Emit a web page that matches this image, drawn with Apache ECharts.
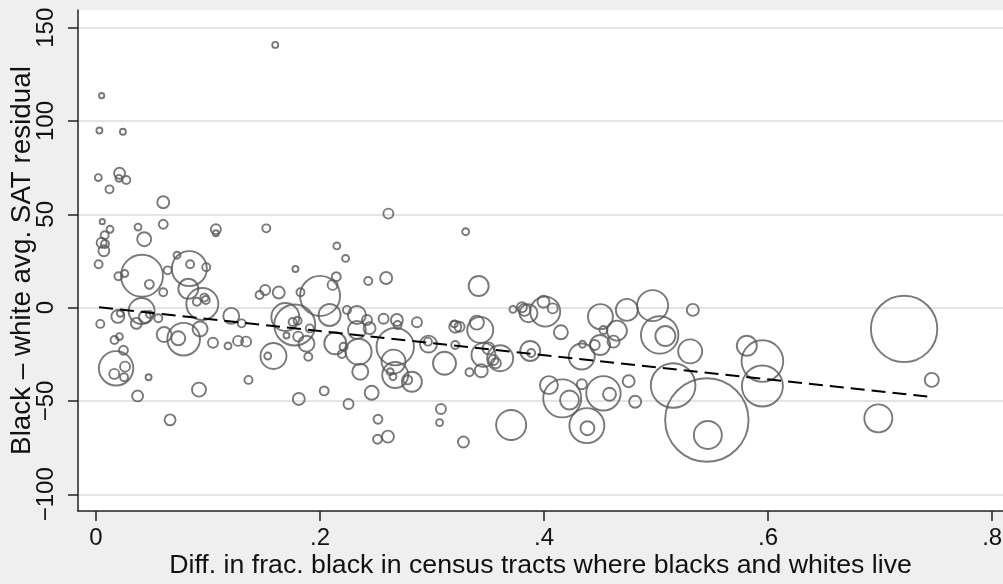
<!DOCTYPE html>
<html>
<head>
<meta charset="utf-8">
<script src="https://cdn.jsdelivr.net/npm/echarts@6/dist/echarts.min.js"></script>
<style>
html,body{margin:0;padding:0;background:#efefef;}
#c{width:1003px;height:584px;}
</style>
</head>
<body>
<div id="c"></div>
<script>
// Difference in fraction black (x), black-white avg SAT residual (y), weight (bubble area)
const diffFracBlack = [0.160,0.005,0.003,0.024,0.002,0.021,0.0205,0.027,0.012,0.060,
0.0056,0.0125,0.0077,0.0375,0.060,0.043,0.107,0.107,0.152,0.005,
0.008,0.007,0.0023,0.041,0.0476,0.020,0.0257,0.060,0.0833,0.084,
0.0984,0.0723,0.0824,0.064,0.0949,0.0967,0.090,0.098,0.0407,0.1207,
0.178,0.215,0.2228,0.2145,0.2112,0.146,0.151,0.1631,0.1825,0.200,
0.261,0.330,0.243,0.259,0.3416,0.0038,0.0195,0.0217,0.036,0.0436,
0.0478,0.0556,0.130,0.169,0.1774,0.1755,0.180,0.1908,0.1879,0.1805,
0.170,0.1895,0.1584,0.1533,0.2037,0.181,0.1361,0.1178,0.1268,0.134,
0.1044,0.0929,0.0782,0.0734,0.0608,0.0165,0.0209,0.0245,0.0179,0.0163,
0.0259,0.025,0.0469,0.0371,0.0919,0.0661,0.2085,0.224,0.2329,0.2419,
0.2442,0.2329,0.2567,0.2686,0.2692,0.2865,0.2136,0.221,0.2195,0.2344,
0.2359,0.2461,0.2254,0.2517,0.2513,0.2606,0.2671,0.2656,0.2671,0.2626,
0.2651,0.2783,0.282,0.2968,0.2963,0.3207,0.3245,0.3198,0.3207,0.3111,
0.340,0.343,0.3504,0.3459,0.3608,0.3548,0.357,0.3439,0.3334,0.3079,
0.3067,0.328,0.3706,0.3722,0.3802,0.3825,0.3861,0.401,0.3995,0.4077,
0.415,0.3876,0.3885,0.4043,0.4162,0.4227,0.4503,0.4739,0.4969,0.5328,
0.453,0.465,0.462,0.450,0.4452,0.4343,0.4336,0.5032,0.5083,0.5304,
0.581,0.5949,0.5949,0.5152,0.5453,0.5462,0.4755,0.4813,0.453,0.4584,
0.4337,0.4382,0.4387,0.7214,0.7461,0.6984];

const satResidual = [140.8,113.6,94.9,94.3,69.7,72.0,69.3,68.4,63.4,56.5,
46.1,42.0,38.8,43.2,44.7,36.7,42.0,39.9,42.5,34.8,
34.1,30.5,23.3,17.1,12.5,16.8,18.3,8.3,20.9,23.3,
21.7,28.1,10.1,20.0,2.0,5.4,3.2,4.1,-1.8,-4.4,
20.7,33.1,26.4,16.6,12.2,6.8,9.5,8.1,8.3,6.3,
50.4,40.7,14.3,15.9,11.6,-8.7,-4.7,-3.0,-8.4,-5.0,
-3.6,-5.7,-8.4,-5.0,-9.3,-7.7,-7.0,-11.1,-19.3,-15.5,
-14.9,-26.3,-25.9,-25.9,-44.6,-48.9,-38.7,-20.5,-17.8,-18.2,
-18.8,-11.4,-16.9,-16.4,-14.4,-17.3,-15.5,-22.8,-32.5,-35.5,
-31.6,-37.3,-37.3,-47.3,-43.9,-60.1,-3.9,-1.2,-3.9,-6.6,
-11.0,-12.0,-5.9,-6.6,-9.3,-7.8,-19.1,-20.9,-24.8,-23.6,
-34.3,-45.6,-51.6,-59.8,-70.5,-69.1,-20.9,-28.9,-36.1,-34.3,
-37.0,-38.7,-39.7,-19.5,-18.2,-10.2,-10.2,-8.7,-20.0,-29.8,
-8.0,-11.9,-21.8,-25.3,-27.1,-28.0,-29.8,-33.8,-34.6,-54.3,
-61.6,-72.0,-62.9,-0.9,0.2,-1.2,-3.0,-2.1,3.2,-0.4,
-13.2,-23.2,-24.3,-41.5,-48.6,-49.5,-4.8,-1.2,1.1,-1.2,
-12.0,-12.3,-18.2,-20.0,-20.0,-19.6,-26.2,-14.6,-15.2,-23.4,
-20.4,-28.6,-42.0,-41.7,-60.2,-68.2,-39.4,-50.4,-45.9,-46.4,
-41.0,-63.2,-64.6,-11.4,-38.7,-59.3];

const weight = [9,7,9,9,12,30,12,16,16,36,
7,12,16,12,20,49,25,9,16,25,
16,30,16,441,20,16,12,16,306,16,
16,12,100,16,256,16,16,16,169,64,
9,12,12,20,25,16,25,36,16,400,
25,12,16,36,100,16,42,12,30,36,
12,16,16,196,420,16,16,16,64,25,
9,16,169,12,20,36,16,12,25,25,
25,56,266,49,56,16,12,20,296,25,
25,16,9,30,49,30,121,16,81,25,
36,81,25,36,16,25,121,16,16,169,
64,49,25,20,20,36,350,144,169,12,
12,20,100,72,16,36,25,12,16,132,
49,169,36,144,169,25,25,42,16,25,
12,30,225,12,25,36,81,225,36,25,
49,100,16,81,361,90,156,121,240,36,
16,100,36,100,25,12,169,350,100,144,
100,433,420,497,1739,196,36,36,296,42,
25,306,49,1102,49,196];

// Fitted line endpoints
const fitX = [0.0027, 0.746];
const fitY = [0.2, -47.9];

const xTickVals = [0, 0.2, 0.4, 0.6, 0.8];
const xTickLabels = ['0', '.2', '.4', '.6', '.8'];
const yTickVals = [-100, -50, 0, 50, 100, 150];
const yTickLabels = ['\u2212100', '\u221250', '0', '50', '100', '150'];

const xTitle = 'Diff. in frac. black in census tracts where blacks and whites live';
const yTitle = 'Black \u2013 white avg. SAT residual';

const pts = diffFracBlack.map((x, i) => [x, satResidual[i], weight[i]]);
const fitData = fitX.map((x, i) => [x, fitY[i]]);

const FONT = '"Liberation Sans", Arial, Helvetica, sans-serif';
const chart = echarts.init(document.getElementById('c'), null, {renderer: 'canvas'});
chart.setOption({
  animation: false,
  backgroundColor: '#efefef',
  grid: {left: 78, right: 0, top: 10, bottom: 73, show: true, backgroundColor: '#ffffff', borderWidth: 0,
    containLabel: false, outerBoundsMode: 'none'},
  xAxis: {
    type: 'value', min: -0.0161, max: 0.8097,
    axisLine: {show: true, onZero: false, lineStyle: {color: '#222', width: 1.5}},
    axisTick: {show: true, length: 10, lineStyle: {color: '#222', width: 1.5}, customValues: xTickVals},
    axisLabel: {customValues: xTickVals, margin: 15, fontSize: 24, color: '#111', fontFamily: FONT,
      formatter: v => { const i = xTickVals.findIndex(t => Math.abs(t - v) < 1e-9); return i >= 0 ? xTickLabels[i] : ''; }},
    splitLine: {show: false},
    name: xTitle, nameLocation: 'middle', nameGap: 41, nameMoveOverlap: false,
    nameTextStyle: {fontSize: 26.7, color: '#111', fontFamily: FONT}
  },
  yAxis: {
    type: 'value', min: -108.95, max: 159.5,
    axisLine: {show: true, onZero: false, lineStyle: {color: '#222', width: 1.5}},
    axisTick: {show: true, length: 10, lineStyle: {color: '#222', width: 1.5}, customValues: yTickVals},
    axisLabel: {customValues: yTickVals, rotate: 90, margin: 20, verticalAlign: 'bottom', align: 'center',
      fontSize: 24, color: '#111', fontFamily: FONT,
      formatter: v => { const i = yTickVals.findIndex(t => Math.abs(t - v) < 1e-9); return i >= 0 ? yTickLabels[i] : ''; }},
    splitLine: {show: true, lineStyle: {color: '#e4e4e4', width: 2}},
    name: yTitle, nameLocation: 'middle', nameGap: 42, nameMoveOverlap: false,
    nameTextStyle: {fontSize: 27.8, color: '#111', fontFamily: FONT}
  },
  series: [
    {
      type: 'scatter', data: pts, symbol: 'circle',
      symbolSize: d => 2 * Math.sqrt(d[2]),
      itemStyle: {color: 'rgba(0,0,0,0)', borderColor: '#585858', borderWidth: 1.9},
      emphasis: {disabled: true}, silent: true, z: 2
    },
    {
      type: 'line', data: fitData, symbol: 'none',
      lineStyle: {color: '#000', width: 2, type: [14, 7]},
      emphasis: {disabled: true}, silent: true, z: 3
    }
  ]
});
</script>
</body>
</html>
